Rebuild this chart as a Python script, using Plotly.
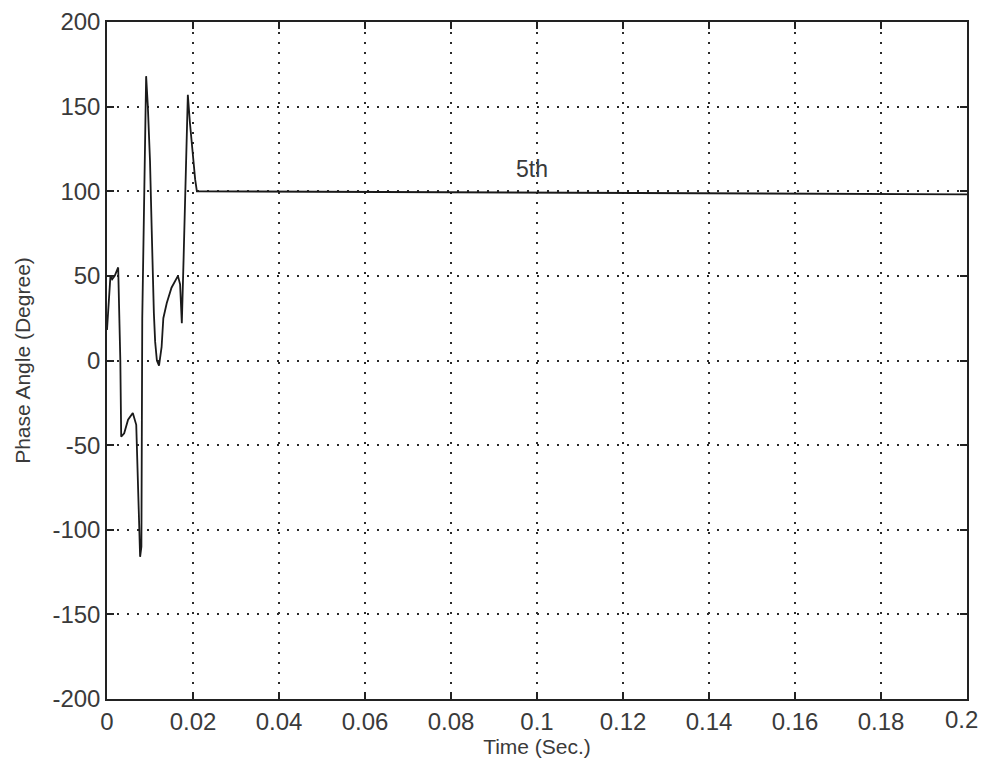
import plotly.graph_objects as go

# Data (time in seconds, phase angle in degrees)
time_s = [0.0000, 0.0004, 0.0008, 0.0012, 0.0018, 0.0026, 0.0029, 0.0031, 0.0033,
          0.0040, 0.0049, 0.0060, 0.0068, 0.0071, 0.0074, 0.0077, 0.0080, 0.0082,
          0.0086, 0.0091, 0.0095, 0.0100, 0.0104, 0.0106, 0.0109, 0.0112, 0.0116,
          0.0121, 0.0127, 0.0131, 0.0139, 0.0150, 0.0158, 0.0165, 0.0170, 0.0174,
          0.0178, 0.0182, 0.0188, 0.0193, 0.0199, 0.0205, 0.0209, 0.0600, 0.1000,
          0.1500, 0.2000]
phase_deg = [18, 34, 50, 48, 50, 55, 30, 0, -45,
             -43, -35, -31, -38, -59, -90, -116, -110, 25,
             90, 168, 150, 118, 77, 47, 28, 11, 0,
             -3, 8, 25, 34, 43, 47, 50, 45, 22,
             59, 100, 157, 140, 122, 107, 100, 99.6, 99.2,
             98.6, 98.2]

x_ticks = [0, 0.02, 0.04, 0.06, 0.08, 0.1, 0.12, 0.14, 0.16, 0.18, 0.2]
x_tick_labels = ["0", "0.02", "0.04", "0.06", "0.08", "0.1", "0.12", "0.14", "0.16", "0.18", "0.2"]
y_ticks = [-200, -150, -100, -50, 0, 50, 100, 150, 200]
y_tick_labels = ["-200", "-150", "-100", "-50", "0", "50", "100", "150", "200"]

label_text = "5th"
label_x, label_y = 0.0988, 113

FONT = "Liberation Sans"
TXT = "#3a3a3a"

fig = go.Figure()
fig.add_trace(go.Scatter(x=time_s, y=phase_deg, mode="lines",
                         line=dict(color="#1a1a1a", width=1.8), showlegend=False))

fig.add_annotation(x=label_x, y=label_y, text=label_text, showarrow=False,
                   font=dict(family=FONT, size=23, color=TXT))

# the last x tick label sits at the page edge: draw it as a right-anchored annotation
shown_x_labels = x_tick_labels[:-1] + [""]
fig.add_annotation(x=x_ticks[-1], xref="x", y=0, yref="paper", yanchor="top",
                   xanchor="right", xshift=13, yshift=-5,
                   text=x_tick_labels[-1], showarrow=False,
                   font=dict(family=FONT, size=24, color=TXT))

axis_common = dict(
    showline=True, linecolor="#222222", linewidth=1.5, mirror="ticks",
    ticks="inside", ticklen=7, tickcolor="#222222", tickwidth=1.5,
    showgrid=True, gridcolor="#2a2a2a", griddash="2px,8px", gridwidth=1.5,
    zeroline=False, automargin=False, ticklabeloverflow="allow",
    tickfont=dict(family=FONT, size=24, color=TXT),
)

fig.update_xaxes(range=[0, 0.2], tickvals=x_ticks, ticktext=shown_x_labels,
                 title=dict(text="Time (Sec.)", standoff=6,
                            font=dict(family=FONT, size=21, color=TXT)),
                 **axis_common)
fig.update_yaxes(range=[-200, 200], tickvals=y_ticks, ticktext=y_tick_labels,
                 title=dict(text="Phase Angle (Degree)", standoff=16,
                            font=dict(family=FONT, size=21, color=TXT)),
                 **axis_common)

# page body has an 8px default margin; keep figure inside viewport (no scrollbars)
fig.update_layout(width=972, height=757,
                  margin=dict(l=99, r=13, t=14, b=66),
                  paper_bgcolor="white", plot_bgcolor="white")

fig.write_html("out.html")
